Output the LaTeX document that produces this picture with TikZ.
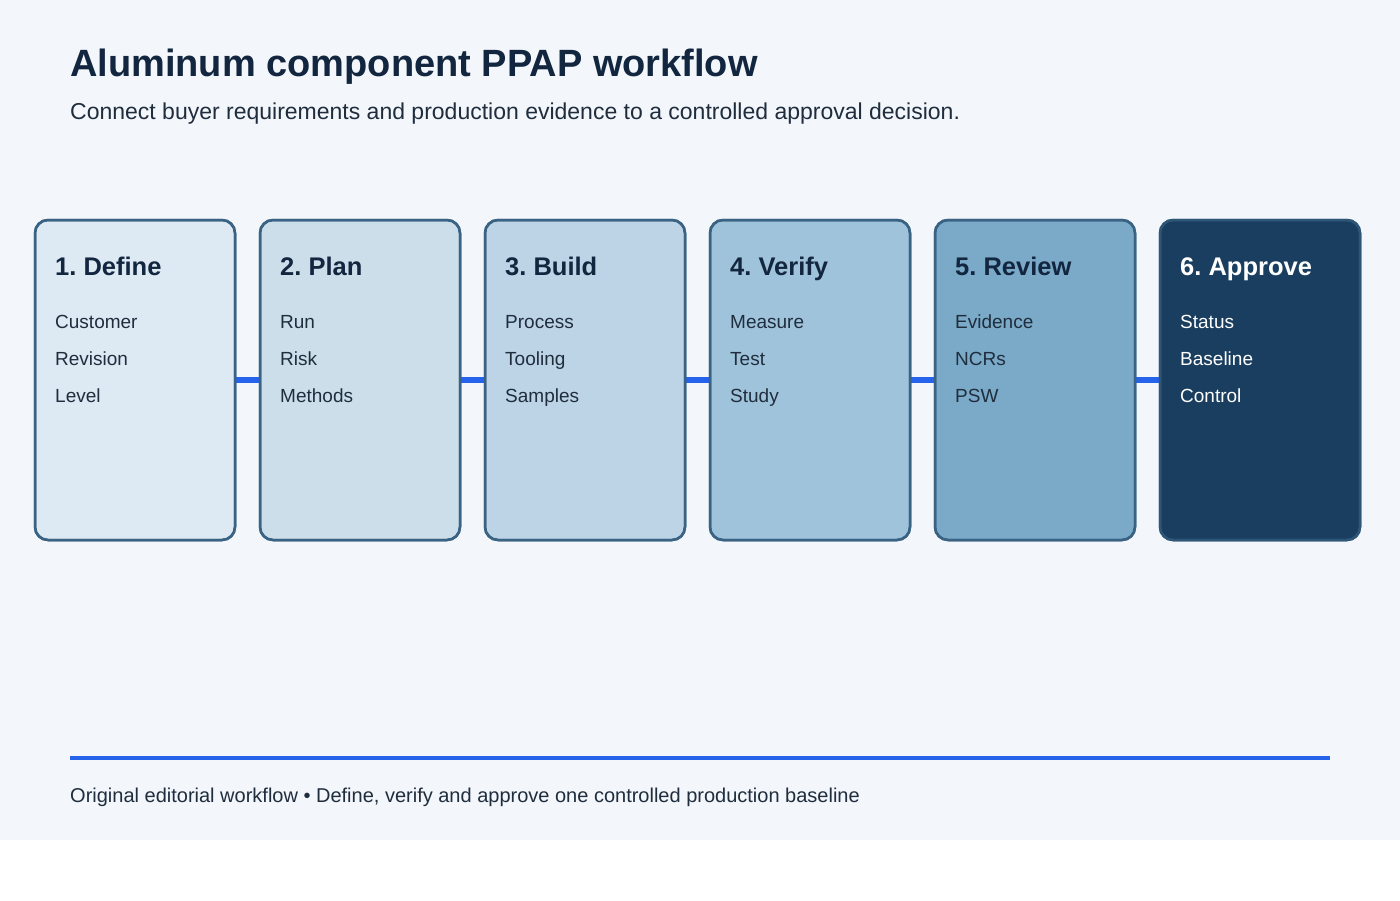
\documentclass[tikz,border=0pt]{standalone}
\usepackage{fontspec}
\setmainfont{Liberation Sans}
\frenchspacing
\definecolor{bgc}{HTML}{F3F6FB}
\definecolor{ink}{HTML}{13263F}
\definecolor{txt}{HTML}{1F2D3D}
\definecolor{edge}{HTML}{3A6283}
\definecolor{edgedark}{HTML}{2E5677}
\definecolor{linkc}{HTML}{2563EB}
\definecolor{fA}{HTML}{DDE9F3}
\definecolor{fB}{HTML}{CDDEEB}
\definecolor{fC}{HTML}{BDD4E7}
\definecolor{fD}{HTML}{A0C3DC}
\definecolor{fE}{HTML}{7AAAC8}
\definecolor{fF}{HTML}{1A3E5F}
\tikzset{
  stage/.style={draw=edge, line width=2.5pt, rounded corners=13pt, minimum width=200pt, minimum height=320pt, anchor=north west, inner sep=0pt, outer sep=0pt},
  border/.style={line width=2.5pt, rounded corners=13pt},
  head/.style={anchor=base west, inner sep=0pt, font=\fontsize{25.5}{30}\selectfont\bfseries, text=ink},
  item/.style={anchor=base west, inner sep=0pt, font=\fontsize{19}{23}\selectfont, text=txt},
  link/.style={draw=linkc, line width=6.5pt},
}
\begin{document}
\begin{tikzpicture}[x=1pt,y=-1pt]
\useasboundingbox (0,0) rectangle (1400,900);
\fill[white] (0,0) rectangle (1400,900);
\fill[bgc] (0,0) rectangle (1400,840);
\node[anchor=base west, inner sep=0pt, font=\fontsize{38}{45}\selectfont\bfseries, text=ink] (title) at (70,76) {Aluminum component PPAP workflow};
\node[anchor=base west, inner sep=0pt, font=\fontsize{23}{27}\selectfont, text=txt] (sub) at (70,119.5) {Connect buyer requirements and production evidence to a controlled approval decision.};
% boxes
\node[stage, fill=fA] (b1) at (35,220) {};
\node[stage, fill=fB] (b2) at (260,220) {};
\node[stage, fill=fC] (b3) at (485,220) {};
\node[stage, fill=fD] (b4) at (710,220) {};
\node[stage, fill=fE] (b5) at (935,220) {};
\node[stage, fill=fF, draw=edgedark] (b6) at (1160,220) {};
% links
\draw[link] (b1.east |- 0,380) -- (b2.west |- 0,380);
\draw[link] (b2.east |- 0,380) -- (b3.west |- 0,380);
\draw[link] (b3.east |- 0,380) -- (b4.west |- 0,380);
\draw[link] (b4.east |- 0,380) -- (b5.west |- 0,380);
\draw[link] (b5.east |- 0,380) -- (b6.west |- 0,380);
% redraw borders over links
\foreach \b in {b1,b2,b3,b4,b5}{\draw[border, draw=edge] (\b.south west) rectangle (\b.north east);}
\draw[border, draw=edgedark] (b6.south west) rectangle (b6.north east);
% texts
\node[head] (h1) at (55,275) {1. Define};
\node[item] (i11) at (55,328) {Customer};
\node[item] (i12) at (55,365) {Revision};
\node[item] (i13) at (55,402) {Level};
\node[head] (h2) at (280,275) {2. Plan};
\node[item] (i21) at (280,328) {Run};
\node[item] (i22) at (280,365) {Risk};
\node[item] (i23) at (280,402) {Methods};
\node[head] (h3) at (505,275) {3. Build};
\node[item] (i31) at (505,328) {Process};
\node[item] (i32) at (505,365) {Tooling};
\node[item] (i33) at (505,402) {Samples};
\node[head] (h4) at (730,275) {4. Verify};
\node[item] (i41) at (730,328) {Measure};
\node[item] (i42) at (730,365) {Test};
\node[item] (i43) at (730,402) {Study};
\node[head] (h5) at (955,275) {5. Review};
\node[item] (i51) at (955,328) {Evidence};
\node[item] (i52) at (955,365) {NCRs};
\node[item] (i53) at (955,402) {PSW};
\node[head, text=white] (h6) at (1180,275) {6. Approve};
\node[item, text=white] (i61) at (1180,328) {Status};
\node[item, text=white] (i62) at (1180,365) {Baseline};
\node[item, text=white] (i63) at (1180,402) {Control};
% footer
\coordinate (fl) at (70,758);
\coordinate (fr) at (1330,758);
\draw[draw=linkc, line width=4pt] (fl) -- (fr);
\node[anchor=base west, inner sep=0pt, font=\fontsize{20}{24}\selectfont, text=txt] (foot) at (70,802) {Original editorial workflow • Define, verify and approve one controlled production baseline};
\end{tikzpicture}
\end{document}
